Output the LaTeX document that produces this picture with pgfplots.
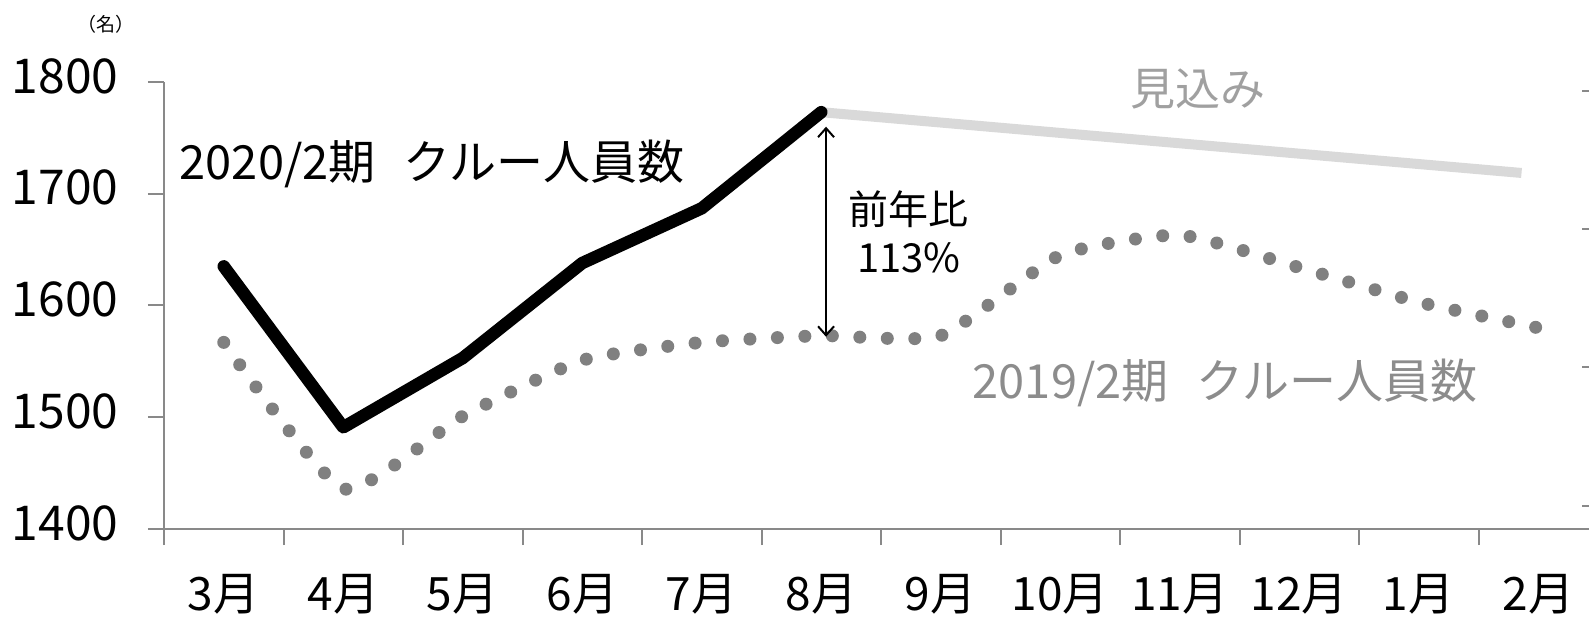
\documentclass[border=0pt]{standalone}
\usepackage{fontspec}
\setmainfont{Noto Sans CJK JP}
\usepackage{pgfplots}
\pgfplotsset{compat=1.18}
\usetikzlibrary{arrows.meta}
\definecolor{axgray}{HTML}{898989}
\definecolor{dotgray}{HTML}{808080}
\definecolor{fcgray}{HTML}{D9D9D9}
\definecolor{txtgray}{HTML}{8C8C8C}
\definecolor{lbgray}{HTML}{A0A0A0}

\pgfplotstableread{
x y
0 1635
1 1491
2 1553
3 1638
4 1687
5 1773
}\curA

\pgfplotstableread{
x y
0 1567
1 1436
2 1501
3 1551
4 1567
5 1573
6 1573
7 1645
8 1663
9 1634
10 1603
11 1580
}\curB

\pgfplotstableread{
x y
5 1773
10.86 1718.6
}\fcst

\begin{document}
\begin{tikzpicture}[x=1pt,y=1pt]
\useasboundingbox (0,0) rectangle (1589,621);
\clip (0,0) rectangle (1589,621);
\begin{axis}[
  at={(164pt,92pt)}, anchor=south west,
  scale only axis, width=1434pt, height=447pt,
  xmin=-0.5, xmax=11.5, ymin=1400, ymax=1800,
  clip=false,
  axis x line*=bottom, axis y line*=left,
  axis line style={axgray, line width=2pt},
  every tick/.style={axgray, line width=2pt},
  tick align=outside,
  major tick length=16pt,
  xtick={-0.5,0.5,...,11.5},
  xticklabels={},
  extra x ticks={0,1,2,3,4,5,6,7,8,9,10,11},
  extra x tick labels={3月,4月,5月,6月,7月,8月,9月,10月,11月,12月,1月,2月},
  extra x tick style={major tick length=0pt,
     xticklabel style={font=\fontsize{46}{46}\selectfont, text=black, yshift=-42pt}},
  ytick={1400,1500,1600,1700,1800},
  yticklabel style={font=\fontsize{48}{48}\selectfont, text=black, xshift=-26pt, yshift=6pt},
  /pgf/number format/assume math mode=true,
  /pgf/number format/1000 sep={},
]
\addplot[fcgray, line width=10pt, line cap=butt] table {\fcst};
\addplot[dotgray, line width=13pt, line cap=round, dash pattern=on 0pt off 27.5pt, smooth, tension=0.32] table {\curB};
\addplot[black, line width=12.5pt, line cap=round, line join=round] table {\curA};
\draw[black, line width=2pt, {Straight Barb[length=9pt,width=16pt]}-{Straight Barb[length=9pt,width=16pt]}] (axis cs:5.04,1760) -- (axis cs:5.04,1572);
\node[font=\fontsize{47}{47}\selectfont, text=black] at (axis cs:1.743,1727) {2020/2期\hspace{28pt}クルー人員数};
\node[font=\fontsize{47}{47}\selectfont, text=txtgray] at (axis cs:8.379,1531) {2019/2期\hspace{28pt}クルー人員数};
\node[font=\fontsize{45}{45}\selectfont, text=lbgray] at (axis cs:8.149,1794) {見込み};
\node[font=\fontsize{40}{48}\selectfont, text=black, align=center] at (axis cs:5.734,1666) {前年比\\113\%};
\node[font=\fontsize{19}{19}\selectfont, text=black] at (axis cs:-0.985,1852) {（名）};
\end{axis}
\begin{axis}[
  at={(164pt,92pt)}, anchor=south west,
  scale only axis, width=1434pt, height=447pt,
  xmin=0, xmax=1, ymin=0, ymax=447,
  axis x line=none, axis y line*=right,
  y axis line style={draw=none},
  ytick={23,162,300,438}, yticklabels={},
  every tick/.style={axgray, line width=2pt},
  tick align=inside, major tick length=16pt,
]
\end{axis}
\end{tikzpicture}
\end{document}
